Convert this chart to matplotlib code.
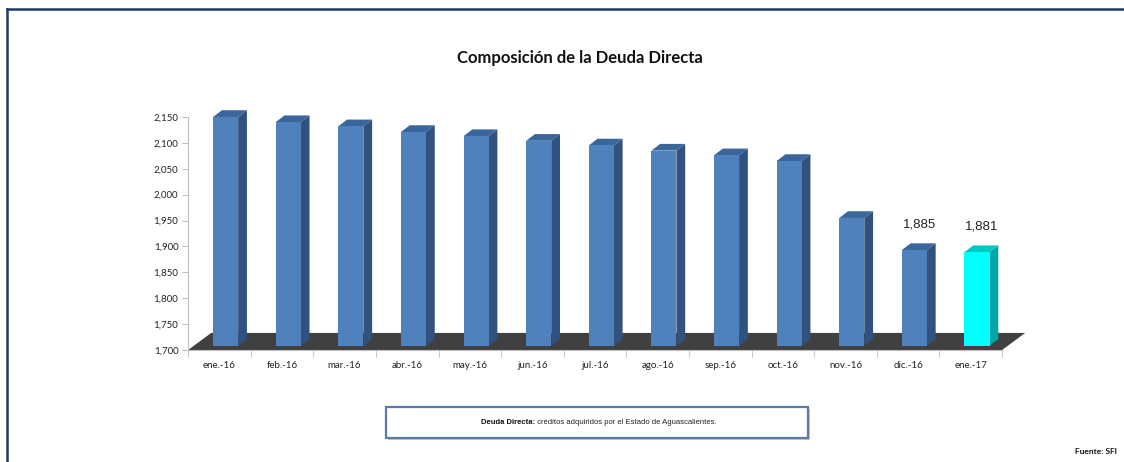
import matplotlib.pyplot as plt
from matplotlib.patches import Polygon, Rectangle
from matplotlib.lines import Line2D
from matplotlib.text import Annotation

# Data (millones de pesos)
months = ["ene.-16", "feb.-16", "mar.-16", "abr.-16", "may.-16", "jun.-16",
          "jul.-16", "ago.-16", "sep.-16", "oct.-16", "nov.-16", "dic.-16", "ene.-17"]
deuda = [2142, 2132, 2124, 2113, 2105, 2096, 2087, 2077, 2068, 2057, 1947, 1885, 1881]
labeled = ["dic.-16", "ene.-17"]
highlight = "ene.-17"

# Pseudo-3D styling (in data units)
y_min, y_max = 1700, 2150
bar_w = 0.4
bar_off = 0.1        # front face shifted right of category center
lift = 8             # bars stand on the floor, slightly above axis base
depth_x, depth_y = 0.14, 13
floor_dx, floor_dy = 0.37, 33

blue = ("#4F81BD", "#3A669C", "#31527E")   # front, top, side
cyan = ("#00FFFF", "#00C6C6", "#00A6A6")

fig = plt.figure(figsize=(11.24, 4.62), dpi=100)
ax = fig.add_axes([0.1673, 0.2424, 0.7242, 0.5044])

n = len(months)
ax.set_xlim(-0.5, n - 0.5)
ax.set_ylim(y_min, y_max)

# floor
floor = Polygon([(-0.5, y_min), (n - 0.5, y_min),
                 (n - 0.5 + floor_dx, y_min + floor_dy), (-0.5 + floor_dx, y_min + floor_dy)],
                closed=True, facecolor="#404040", edgecolor="none", zorder=2, clip_on=False)
ax.add_patch(floor)

for i, (m, v) in enumerate(zip(months, deuda)):
    front, top, side = cyan if m == highlight else blue
    x0 = i + bar_off - bar_w / 2
    x1 = x0 + bar_w
    b = y_min + lift
    t = v + lift
    ax.bar(i + bar_off, v - y_min, bottom=b, width=bar_w, color=front,
           edgecolor="none", zorder=4, clip_on=False)
    ax.add_patch(Polygon([(x1, b), (x1 + depth_x, b + depth_y), (x1 + depth_x, t + depth_y), (x1, t)],
                         closed=True, facecolor=side, edgecolor="none", zorder=3, clip_on=False))
    ax.add_patch(Polygon([(x0, t), (x1, t), (x1 + depth_x, t + depth_y), (x0 + depth_x, t + depth_y)],
                         closed=True, facecolor=top, edgecolor="none", zorder=3, clip_on=False))
    if m in labeled:
        ax.text(i + bar_off + 0.08, v + 57, f"{v:,}", ha="center", va="center",
                fontsize=9.5, family="Liberation Sans", color="#222222", zorder=5)

# axes styling
for s in ["top", "right"]:
    ax.spines[s].set_visible(False)
ax.spines["left"].set_color("#BFBFBF")
ax.spines["bottom"].set_color("#BFBFBF")
ax.set_yticks(range(y_min, y_max + 1, 50))
ax.set_yticklabels([f"{t:,}" for t in range(y_min, y_max + 1, 50)],
                   fontsize=7, family="Lato", color="#222222")
ax.tick_params(axis="y", length=4, color="#BFBFBF", pad=3)
ax.set_xticks(range(n))
ax.set_xticklabels(months, fontsize=7, family="Lato", color="#222222")
ax.set_xticks([i - 0.5 for i in range(n + 1)], minor=True)
ax.tick_params(axis="x", which="major", length=0, pad=8)
ax.tick_params(axis="x", which="minor", length=5, color="#BFBFBF")

# title
fig.text(0.516, 0.874, "Composición de la Deuda Directa", ha="center", va="center",
         fontsize=12, fontweight="bold", family="Lato", color="#111111")

# definition box
fig.patches.append(Rectangle((0.3452, 0.0478), 0.3754, 0.0671, transform=fig.transFigure,
                             facecolor="#C8C8C8", edgecolor="none", zorder=1))
fig.patches.append(Rectangle((0.3434, 0.0519), 0.3754, 0.0671, transform=fig.transFigure,
                             facecolor="white", edgecolor="#5B7BA6", linewidth=1.6, zorder=2))
bold = fig.text(0.428, 0.0855, "Deuda Directa:", ha="left", va="center", fontsize=5.5,
                fontweight="bold", family="Liberation Sans", color="#111111", zorder=4)
fig.add_artist(Annotation(" créditos adquiridos por el Estado de Aguascalientes.", xy=(1, 0.5),
                          xycoords=bold, ha="left", va="center", fontsize=5.5,
                          family="Liberation Sans", color="#222222", zorder=4))

fig.text(0.9938, 0.0238, "Fuente: SFI", ha="right", va="center", fontsize=6,
         fontweight="bold", family="Lato", color="#111111")

# outer frame (top and left edges)
fig.lines.append(Line2D([0.0062, 1.0], [0.9816, 0.9816], transform=fig.transFigure,
                        color="#1F3A64", linewidth=1.8))
fig.lines.append(Line2D([0.0062, 0.0062], [0.0, 0.9816], transform=fig.transFigure,
                        color="#1F3A64", linewidth=1.8))

fig.savefig("out.png", dpi=100)
